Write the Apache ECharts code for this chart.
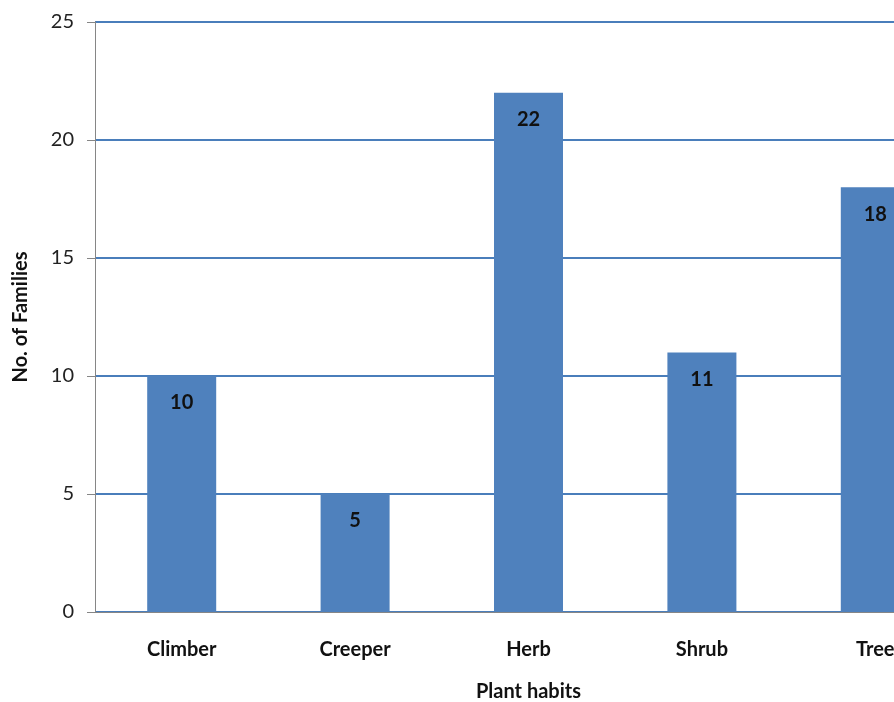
<!DOCTYPE html>
<html>
<head>
<meta charset="utf-8">
<script src="https://cdn.jsdelivr.net/npm/echarts@6/dist/echarts.min.js"></script>
<style>
    html, body { margin: 0; padding: 0; background: #fff; }
    #chart { width: 894px; height: 702px; }
</style>
</head>
<body>
<div id="chart"></div>
<script>
    // plant habits vs number of families
    var habits = ['Climber', 'Creeper', 'Herb', 'Shrub', 'Tree'];
    var families = [10, 5, 22, 11, 18];

    var font = 'Lato, "Liberation Sans", sans-serif';
    var chart = echarts.init(document.getElementById('chart'));

    chart.setOption({
        animation: false,
        // plot runs past the right edge, as in the cropped original
        grid: { left: 95, width: 867, top: 22, height: 590, outerBoundsMode: 'none', containLabel: false },
        xAxis: {
            type: 'category',
            data: habits,
            name: 'Plant habits',
            nameLocation: 'middle',
            nameGap: 70,
            nameTextStyle: { fontFamily: font, fontSize: 20, fontWeight: 'bold', color: '#111' },
            axisLine: { lineStyle: { color: '#868686', width: 1 } },
            axisTick: { length: 6, lineStyle: { color: '#868686' } },
            axisLabel: { margin: 28, fontFamily: font, fontSize: 20, fontWeight: 'bold', color: '#111' }
        },
        yAxis: {
            type: 'value',
            min: 0,
            max: 25,
            interval: 5,
            name: 'No. of Families',
            nameLocation: 'middle',
            nameGap: 64,
            nameTextStyle: { fontFamily: font, fontSize: 20, fontWeight: 'bold', color: '#111' },
            axisLine: { show: true, lineStyle: { color: '#868686', width: 1 } },
            axisTick: { show: true, length: 8, lineStyle: { color: '#868686' } },
            axisLabel: { margin: 21, fontFamily: font, fontSize: 20, color: '#222' },
            splitLine: { lineStyle: { color: '#4a7ebb', width: 2 } }
        },
        series: [{
            type: 'bar',
            data: families,
            barWidth: 69,
            itemStyle: { color: '#4f81bd' },
            label: {
                show: true,
                position: 'insideTop',
                distance: 17,
                fontFamily: font,
                fontSize: 20,
                fontWeight: 'bold',
                color: '#111'
            }
        }]
    });
</script>
</body>
</html>
